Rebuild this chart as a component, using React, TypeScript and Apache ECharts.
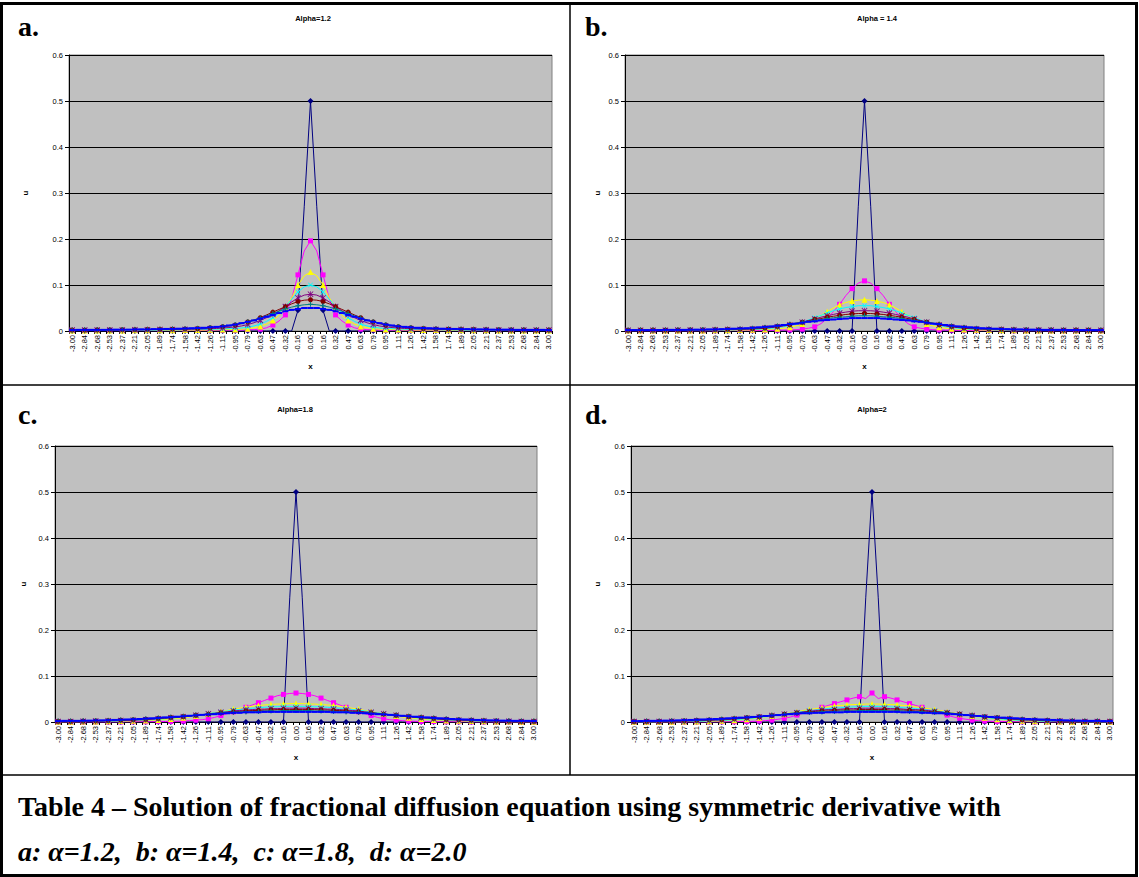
import React, { useEffect, useRef } from "react";
import * as echarts from "echarts";

// x grid: 77 nodes on [-3, 3]
const X_LABELS = [
  "-3.00","-2.92","-2.84","-2.76","-2.68","-2.61","-2.53","-2.45","-2.37","-2.29",
  "-2.21","-2.13","-2.05","-1.97","-1.89","-1.82","-1.74","-1.66","-1.58","-1.50",
  "-1.42","-1.34","-1.26","-1.18","-1.11","-1.03","-0.95","-0.87","-0.79","-0.71",
  "-0.63","-0.55","-0.47","-0.39","-0.32","-0.24","-0.16","-0.08","0.00","0.08",
  "0.16","0.24","0.32","0.39","0.47","0.55","0.63","0.71","0.79","0.87",
  "0.95","1.03","1.11","1.18","1.26","1.34","1.42","1.50","1.58","1.66",
  "1.74","1.82","1.89","1.97","2.05","2.13","2.21","2.29","2.37","2.45",
  "2.53","2.61","2.68","2.76","2.84","2.92","3.00",
];

const Y_TICKS = [0, 0.1, 0.2, 0.3, 0.4, 0.5, 0.6];

// Half profiles u(x >= 0), in units of 1e-3, index k -> x = k * 6/76.
// Solutions are symmetric in x, the left half is the mirror image.
const Z = [0,0,0,0,0,0,0,0,0,0];

// alpha = 1.2
const A_NAVY = [500,270,45,0,0,0,0,0,0,0, ...Z, ...Z, 0,0,0,0,0,0,0,0,0];
const A_MAGENTA = [196,174,122,70,35,22,13,7,4,3, 3,2,2,2,2,2,1.5,1.5,1.5,1.5, 1,1,1,1,1,1,1,1,1,1, 1,1,1,1,1,1,1,1,1];
const A_YELLOW = [128,120,100,72,50,34,23,15,10,7, 5,4,3.5,3,3,2.5,2.5,2,2,2, 2,2,1.5,1.5,1.5,1.5,1.5,1.5,1.5,1.5, 1,1,1,1,1,1,1,1,1];
const A_CYAN = [100,96,85,69,53,40,29,21,15,11, 8,6.5,5.5,5,4.5,4,3.5,3.5,3,3, 3,2.5,2.5,2.5,2,2,2,2,2,2, 1.5,1.5,1.5,1.5,1.5,1.5,1.5,1.5,1.5];
const A_PURPLE = [80,78,72,63,53,44,36,29,23,18, 14,11,9,7.5,6.5,5.5,5,4.5,4,4, 3.5,3.5,3,3,3,3,2.5,2.5,2.5,2.5, 2,2,2,2,2,2,2,2,2];
const A_MAROON = [68,67,64,59,53,47,41,35,29,24, 20,16,13,11,9.5,8,7,6,5.5,5, 4.5,4.5,4,4,3.5,3.5,3.5,3,3,3, 3,2.5,2.5,2.5,2.5,2.5,2,2,2];
const A_TEAL = [58,57,55,52,48,43,38,33,28,24, 20,17,14,12,10,8.5,7.5,6.5,6,5.5, 5,4.5,4.5,4,4,3.5,3.5,3.5,3,3, 3,3,2.5,2.5,2.5,2.5,2.5,2,2];
const A_BLUE = [50,50,48,46,43,39,35,31,27,23, 20,17,14,12,10,9,8,7,6.5,6, 5.5,5,4.5,4.5,4,4,3.5,3.5,3.5,3, 3,3,3,2.5,2.5,2.5,2.5,2.5,2];

// alpha = 1.4
const B_NAVY = [500,270,0,0,0,0,0,0,0,0, ...Z, ...Z, 0,0,0,0,0,0,0,0,0];
const B_MAGENTA = [109,104,92,77,58,42,27,16,9,6, 4,3,2.5,2,2,1.5,1.5,1,1,1, 1,1,1,1,0.5,0.5,0.5,0.5,0.5,0.5, 0.5,0.5,0.5,0.5,0.5,0.5,0.5,0.5,0.5];
const B_YELLOW = [68,67,65,62,57,50,42,34,27,20, 15,11,8,6,5,4,3.5,3,2.5,2, 2,2,1.5,1.5,1.5,1.5,1,1,1,1, 1,1,1,1,1,1,1,1,1];
const B_CYAN = [55,55,53,51,48,44,39,34,29,24, 19,15,12,9.5,7.5,6,5,4,3.5,3, 3,2.5,2.5,2,2,2,2,1.5,1.5,1.5, 1.5,1.5,1.5,1.5,1,1,1,1,1];
const B_PURPLE = [44,44,43,41,39,36,33,30,26,23, 19,16,13,11,9,7.5,6,5,4.5,4, 3.5,3,3,2.5,2.5,2.5,2,2,2,2, 2,2,1.5,1.5,1.5,1.5,1.5,1.5,1.5];
const B_MAROON = [38,38,37,36,34,32,30,27,25,22, 19,17,14,12,10,8.5,7,6,5,4.5, 4,3.5,3.5,3,3,2.5,2.5,2.5,2.5,2, 2,2,2,2,2,2,2,1.5,1.5];
const B_TEAL = [33,33,32,31,30,29,27,25,23,21, 19,17,15,13,11,9.5,8,7,6,5, 4.5,4,3.5,3.5,3,3,3,2.5,2.5,2.5, 2.5,2,2,2,2,2,2,2,2];
const B_BLUE = [28,28,28,27,26,25,24,23,21,20, 18,16,15,13,11.5,10,9,8,7,6, 5.5,5,4.5,4,3.5,3.5,3,3,3,2.5, 2.5,2.5,2.5,2,2,2,2,2,2];

// alpha = 1.8
const C_NAVY = [500,270,0,0,0,0,0,0,0,0, ...Z, ...Z, 0,0,0,0,0,0,0,0,0];
const C_MAGENTA = [63,62,60,57,52,47,42,37,32,27, 22,18,14,10,7,5,4,3,2,1.5, 1,1,1,0.5,0.5,0.5,0.5,0.5,0,0, 0,0,0,0,0,0,0,0,0];
const C_YELLOW = [40,40,39,39,38,37,36,34,32,30, 28,25,23,20,18,15,13,11,9,8, 6.5,5.5,4.5,4,3.5,3,2.5,2,2,1.5, 1.5,1,1,1,1,0.5,0.5,0.5,0.5];
const C_CYAN = [34,34,34,33,33,32,31,30,29,27, 26,24,22,20,18,16,14,12.5,11,9.5, 8,7,6,5,4.5,4,3.5,3,2.5,2, 2,1.5,1.5,1.5,1,1,1,1,1];
const C_PURPLE = [30,30,30,29,29,28,28,27,26,25, 24,22,21,19,18,16,14.5,13,11.5,10, 9,8,7,6,5,4.5,4,3.5,3,2.5, 2.5,2,2,1.5,1.5,1.5,1,1,1];
const C_MAROON = [27,27,27,27,26,26,25,25,24,23, 22,21,20,18.5,17,16,14.5,13,12,11, 10,9,8,7,6,5.5,5,4.5,4,3.5, 3,2.5,2.5,2,2,2,1.5,1.5,1.5];
const C_TEAL = [25,25,25,24,24,24,23,23,22,22, 21,20,19,18,17,16,15,14,12.5,11.5, 10.5,9.5,8.5,7.5,7,6,5.5,5,4.5,4, 3.5,3,3,2.5,2.5,2,2,2,2];
const C_BLUE = [22,22,22,22,22,22,21,21,21,20, 20,19,18,17,16.5,15.5,14.5,13.5,12.5,11.5, 10.5,10,9,8,7.5,6.5,6,5.5,5,4.5, 4,3.5,3.5,3,3,2.5,2.5,2.5,2];

// alpha = 2
const D_NAVY = [500,270,0,0,0,0,0,0,0,0, ...Z, ...Z, 0,0,0,0,0,0,0,0,0];
const D_MAGENTA = [63,51,55,52,48,44,40,36,32,27, 23,19,15,11,8,6,4,3,2,1.5, 1,1,0.5,0.5,0.5,0,0,0,0,0, 0,0,0,0,0,0,0,0,0];
const D_YELLOW = [39,39,38,38,37,36,35,33,31,29, 27,25,22,20,17,15,13,11,9,7.5, 6,5,4,3,2.5,2,1.5,1.5,1,1, 1,0.5,0.5,0.5,0.5,0.5,0.5,0.5,0.5];
const D_CYAN = [34,34,33,33,32,31,30,29,28,26, 25,23,21,19,17,15,13,11.5,10,8.5, 7,6,5,4,3.5,3,2.5,2,1.5,1.5, 1,1,1,1,0.5,0.5,0.5,0.5,0.5];
const D_PURPLE = [30,30,30,29,29,28,27,27,26,25, 23,22,20,19,17,15.5,14,12.5,11,9.5, 8.5,7.5,6.5,5.5,4.5,4,3.5,3,2.5,2, 2,1.5,1.5,1,1,1,1,1,1];
const D_MAROON = [27,27,27,26,26,26,25,24,24,23, 22,21,19.5,18,17,15.5,14,13,11.5,10.5, 9.5,8.5,7.5,6.5,5.5,5,4.5,4,3.5,3, 2.5,2,2,2,1.5,1.5,1.5,1.5,1];
const D_TEAL = [25,25,25,24,24,24,23,23,22,21, 21,20,19,18,17,15.5,14.5,13.5,12,11, 10,9,8,7,6.5,6,5,4.5,4,3.5, 3,3,2.5,2,2,2,2,1.5,1.5];
const D_BLUE = [22,22,22,22,22,21,21,21,20,20, 19,19,18,17,16,15,14,13,12,11, 10,9.5,8.5,8,7,6.5,6,5.5,5,4.5, 4,3.5,3,3,2.5,2.5,2.5,2,2];

const X_PATH = "path://M0,1L1,0L5,4L9,0L10,1L6,5L10,9L9,10L5,6L1,10L0,9L4,5Z";
const STAR_PATH = "path://M0,1L1,0L4.4,3.4L4.4,0L5.6,0L5.6,3.4L9,0L10,1L6.6,4.4L6.6,5.6L10,9L9,10L5.6,6.6L5.6,10L4.4,10L4.4,6.6L1,10L0,9L3.4,5.6L3.4,4.4Z";
const PLUS_PATH = "path://M4,0H6V4H10V6H6V10H4V6H0V4H4Z";
const DASH_PATH = "path://M0,0H10V3H0Z";

const SERIES_STYLE = [
  { name: "t0", color: "#000080", symbol: "diamond", size: 6 },
  { name: "t1", color: "#FF00FF", symbol: "rect", size: 5 },
  { name: "t2", color: "#FFFF00", symbol: "triangle", size: 6 },
  { name: "t3", color: "#00FFFF", symbol: X_PATH, size: 5 },
  { name: "t4", color: "#800080", symbol: STAR_PATH, size: 6 },
  { name: "t5", color: "#800000", symbol: "circle", size: 5 },
  { name: "t6", color: "#008080", symbol: PLUS_PATH, size: 5 },
  { name: "t7", color: "#0000FF", symbol: DASH_PATH, size: [6, 2] },
];

const PANELS = [
  {
    letter: "a.", title: "Alpha=1.2",
    grid: { left: 69, top: 55, width: 483, height: 276 },
    letterPos: [18, 26], titlePos: [313, 18], uGap: 40,
    halves: [A_NAVY, A_MAGENTA, A_YELLOW, A_CYAN, A_PURPLE, A_MAROON, A_TEAL, A_BLUE],
  },
  {
    letter: "b.", title: "Alpha = 1.4",
    grid: { left: 625, top: 55, width: 479, height: 276 },
    letterPos: [585, 26], titlePos: [877, 18], uGap: 24,
    halves: [B_NAVY, B_MAGENTA, B_YELLOW, B_CYAN, B_PURPLE, B_MAROON, B_TEAL, B_BLUE],
  },
  {
    letter: "c.", title: "Alpha=1.8",
    grid: { left: 55, top: 446, width: 482, height: 276 },
    letterPos: [18, 414], titlePos: [295, 409], uGap: 28,
    halves: [C_NAVY, C_MAGENTA, C_YELLOW, C_CYAN, C_PURPLE, C_MAROON, C_TEAL, C_BLUE],
  },
  {
    letter: "d.", title: "Alpha=2",
    grid: { left: 631, top: 446, width: 482, height: 276 },
    letterPos: [585, 414], titlePos: [872, 409], uGap: 30,
    halves: [D_NAVY, D_MAGENTA, D_YELLOW, D_CYAN, D_PURPLE, D_MAROON, D_TEAL, D_BLUE],
  },
];

const CAPTION_1 = "Table 4 \u2013 Solution of fractional diffusion equation using symmetric derivative with";
const CAPTION_2 = "a: \u03b1=1.2,  b: \u03b1=1.4,  c: \u03b1=1.8,  d: \u03b1=2.0";

const SANS = '"Liberation Sans", Arial, sans-serif';
const SERIF = '"Liberation Serif", "Times New Roman", serif';

// Full profile on the 77-node grid from a half profile (mirror about x = 0).
function fullProfile(half: number[]): number[] {
  const right = half.slice(0, 39);
  const left = right.slice(1).reverse();
  return [...left, ...right].map((v) => v / 1000);
}

function buildOption() {
  const grids: any[] = [];
  const xAxes: any[] = [];
  const yAxes: any[] = [];
  const series: any[] = [];
  const graphics: any[] = [];

  PANELS.forEach((p, i) => {
    grids.push({
      ...p.grid,
      show: true,
      backgroundColor: "#C0C0C0",
      borderColor: "#808080",
      borderWidth: 1,
      containLabel: false,
    });
    xAxes.push({
      type: "category",
      gridIndex: i,
      data: X_LABELS,
      boundaryGap: true,
      axisLine: { show: true, onZero: false, lineStyle: { color: "#000", width: 1 } },
      axisTick: { show: true, interval: 0, length: 3, lineStyle: { color: "#000" } },
      axisLabel: {
        interval: 1, rotate: 90, margin: 4,
        fontSize: 7.5, fontFamily: SANS, color: "#000",
      },
      splitLine: { show: false },
      name: "x",
      nameLocation: "middle",
      nameGap: 31,
      nameTextStyle: { fontFamily: SANS, fontSize: 8, fontWeight: "bold", color: "#000" },
    });
    yAxes.push({
      type: "value",
      gridIndex: i,
      min: Y_TICKS[0],
      max: Y_TICKS[Y_TICKS.length - 1],
      interval: 0.1,
      axisLine: { show: true, lineStyle: { color: "#000", width: 1 } },
      axisTick: { show: true, length: 4, lineStyle: { color: "#000" } },
      axisLabel: {
        margin: 6, fontSize: 7.5, fontFamily: SANS, color: "#000",
        formatter: (v: number) => String(Number(v.toFixed(1))),
      },
      splitLine: { show: true, lineStyle: { color: "#000", width: 1 } },
      name: "u",
      nameLocation: "middle",
      nameRotate: 90,
      nameGap: p.uGap,
      nameTextStyle: { fontFamily: SANS, fontSize: 8, fontWeight: "bold", color: "#000" },
    });
    p.halves.forEach((h, s) => {
      const st = SERIES_STYLE[s];
      series.push({
        type: "line",
        name: st.name,
        xAxisIndex: i,
        yAxisIndex: i,
        data: fullProfile(h),
        symbol: st.symbol,
        symbolSize: st.size,
        showSymbol: true,
        lineStyle: { color: st.color, width: 1 },
        itemStyle: { color: st.color, borderWidth: 0 },
        emphasis: { disabled: true },
        silent: true,
        z: 2 + s,
      });
    });
    graphics.push({
      type: "text",
      x: p.titlePos[0],
      y: p.titlePos[1],
      style: {
        text: p.title, fill: "#000",
        font: `bold 7.5px ${SANS}`,
        align: "center", verticalAlign: "middle",
      },
    });
    graphics.push({
      type: "text",
      x: p.letterPos[0],
      y: p.letterPos[1],
      style: {
        text: p.letter, fill: "#000",
        font: `bold 28px ${SERIF}`,
        align: "left", verticalAlign: "middle",
      },
    });
  });

  // table frame
  graphics.push({
    type: "rect",
    shape: { x: 1.5, y: 3.5, width: 1135, height: 872 },
    style: { fill: "none", stroke: "#000", lineWidth: 3 },
  });
  graphics.push({
    type: "line",
    shape: { x1: 570, y1: 4, x2: 570, y2: 775 },
    style: { stroke: "#000", lineWidth: 1.5 },
  });
  graphics.push({
    type: "line",
    shape: { x1: 2, y1: 385, x2: 1137, y2: 385 },
    style: { stroke: "#000", lineWidth: 1.5 },
  });
  graphics.push({
    type: "line",
    shape: { x1: 2, y1: 775, x2: 1137, y2: 775 },
    style: { stroke: "#000", lineWidth: 1.5 },
  });
  graphics.push({
    type: "text",
    x: 18,
    y: 806,
    style: {
      text: CAPTION_1, fill: "#000",
      font: `bold 28px ${SERIF}`,
      align: "left", verticalAlign: "middle",
    },
  });
  graphics.push({
    type: "text",
    x: 18,
    y: 851,
    style: {
      text: CAPTION_2, fill: "#000",
      font: `italic bold 28px ${SERIF}`,
      align: "left", verticalAlign: "middle",
    },
  });

  return {
    animation: false,
    backgroundColor: "#fff",
    grid: grids,
    xAxis: xAxes,
    yAxis: yAxes,
    series,
    graphic: graphics,
  };
}

export default function App() {
  const ref = useRef<HTMLDivElement>(null);
  useEffect(() => {
    document.body.style.margin = "0";
    if (!ref.current) return;
    const chart = echarts.init(ref.current, null, { renderer: "svg" });
    chart.setOption(buildOption());
    return () => chart.dispose();
  }, []);
  return <div ref={ref} style={{ width: 1139, height: 877 }} />;
}
